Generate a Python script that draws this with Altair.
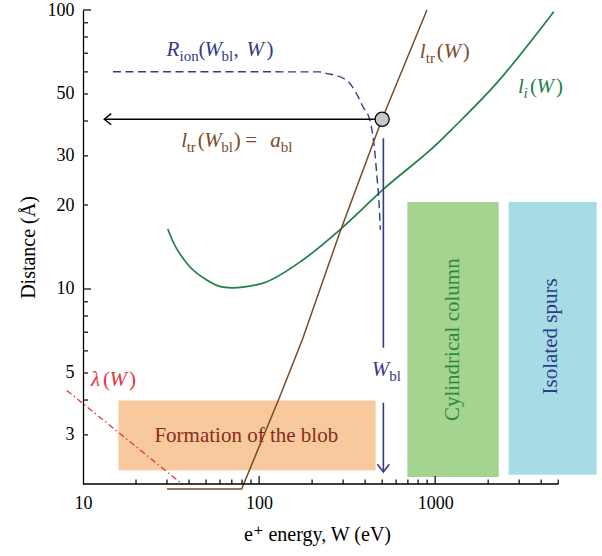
import altair as alt
import pandas as pd

FONT = "'Liberation Serif', 'Times New Roman', 'DejaVu Serif', serif"

# ---------------- axes ----------------
x_axis_end = 5000          # the drawn x axis stops here
x_dom = [10, 8300]         # the scale reaches a bit further (boxes overflow the axis)
y_dom = [2, 100]
W_PX, H_PX = 514, 474
x_labels = [10, 100, 1000]
y_labels = [3, 5, 10, 20, 30, 50, 100]
x_major = [100, 1000]
x_minor = [20, 30, 40, 50, 60, 70, 80, 90, 200, 300, 400, 500, 600, 700, 800, 900,
           2000, 3000, 4000, 5000]
y_major = [10, 100]
y_minor = [3, 4, 5, 6, 7, 8, 9, 20, 30, 40, 50, 60, 70, 80, 90]

# ---------------- curves ----------------
ltr_W = [30, 79.6, 129, 176, 287, 499, 898]
ltr_d = [1.92, 1.92, 4.01, 6.58, 15.9, 40.6, 100]

li_W = [30.3, 32.4, 40.3, 50.1, 62.3, 71, 80.9, 110, 177, 294, 505, 1061, 1236, 2227, 4713]
li_d = [16.4, 14.8, 12.04, 10.8, 10.16, 10.1, 10.16, 10.6, 12.7, 16.5, 22.7, 33.8, 37.2, 54.6, 98.6]

rion_W = [14.8, 221, 241, 313, 353, 389, 425, 434, 453, 467, 480, 488]
rion_d = [60.1, 60, 59.3, 56.1, 50.9, 45.0, 40.4, 38.2, 31.5, 25.3, 20.3, 16.3]

lam_W = [8.09, 36.9]
lam_d = [4.33, 1.99]

# blob point and arrows
W_bl = 500
a_bl = 40.6
arrow_left_W = 13.2
Wbl_line_W = 508
Wbl_upper = [34.7, 6.16]
Wbl_arrow = [3.91, 2.21]

# ---------------- regions ----------------
reg_names = ["Formation of the blob", "Cylindrical column", "Isolated spurs"]
reg_W1 = [15.9, 695, 2616]
reg_W2 = [459, 2295, 8270]
reg_d1 = [2.24, 2.12, 2.16]
reg_d2 = [3.98, 20.5, 20.5]
reg_fill = ["#F7C99C", "#A5D491", "#A8DCE4"]
reg_text_W = [84.6, 1262, 4571]
reg_text_d = [2.96, 6.58, 6.76]
reg_text_color = ["#8B2B1E", "#2B8A3C", "#2D3C8C"]
reg_text_angle = [0, 270, 270]

NAVY = "#343A8A"
BROWN = "#7A4A28"
GREEN = "#1F7F47"
RED = "#E8333A"

xs = alt.Scale(type="log", domain=x_dom, nice=False)
ys = alt.Scale(type="log", domain=y_dom, nice=False)
x_axis = alt.Axis(values=x_labels, format="d", tickSize=0, grid=False, domain=False,
                  labelFont=FONT, labelFontSize=18, labelColor="black",
                  labelPadding=10, labelFlush=False, title="e⁺ energy, W (eV)", titleFont=FONT,
                  titleFontSize=20, titleFontWeight="normal", titleColor="black",
                  titlePadding=12, titleX=234)
y_axis = alt.Axis(values=y_labels, format="d", tickSize=0, grid=False, domainColor="black",
                  domainWidth=1.3, labelFont=FONT, labelFontSize=18, labelColor="black",
                  labelPadding=9, labelFlush=False, title="Distance (Å)", titleFont=FONT,
                  titleFontSize=20, titleFontWeight="normal", titleColor="black", titlePadding=9)


def X(f="W"):
    return alt.X(f"{f}:Q", scale=xs, axis=x_axis)


def Y(f="d"):
    return alt.Y(f"{f}:Q", scale=ys, axis=y_axis)


layers = []

# region boxes
reg_df = pd.DataFrame({"W": reg_W1, "W2": reg_W2, "d": reg_d1, "d2": reg_d2, "fill": reg_fill})
layers.append(alt.Chart(reg_df).mark_rect(clip=False).encode(
    x=X(), x2="W2:Q", y=Y(), y2="d2:Q", color=alt.Color("fill:N", scale=None)))


def line(Ws, ds, color, width, dash=None, interp="linear"):
    df = pd.DataFrame({"W": Ws, "d": ds, "o": range(len(Ws))})
    kw = dict(color=color, strokeWidth=width, clip=False, interpolate=interp)
    if dash:
        kw["strokeDash"] = dash
    return alt.Chart(df).mark_line(**kw).encode(x=X(), y=Y(), order="o:Q")


layers.append(line(lam_W, lam_d, RED, 1.3, [6, 3, 1.5, 3]))
layers.append(line(li_W, li_d, GREEN, 1.7, interp="monotone"))
layers.append(line(rion_W, rion_d, NAVY, 1.4, [8, 4.5], interp="monotone"))
layers.append(line(ltr_W, ltr_d, BROWN, 1.5))

# W_bl vertical line and arrow
layers.append(line([Wbl_line_W, Wbl_line_W], Wbl_upper, NAVY, 1.6))
layers.append(line([Wbl_line_W, Wbl_line_W], Wbl_arrow, NAVY, 1.6))
layers.append(alt.Chart(pd.DataFrame({"W": [Wbl_line_W], "d": [Wbl_arrow[1]]})).mark_point(
    shape="M-1.7,-2.2L0,0L1.7,-2.2", filled=False, stroke=NAVY, strokeWidth=1.6, size=49,
    opacity=1, clip=False).encode(x=X(), y=Y()))

# horizontal arrow a_bl
layers.append(line([arrow_left_W, W_bl], [a_bl, a_bl], "black", 1.4))
layers.append(alt.Chart(pd.DataFrame({"W": [arrow_left_W], "d": [a_bl]})).mark_point(
    shape="M2,-1.6L0,0L2,1.6", filled=False, stroke="black", strokeWidth=1.4, size=49,
    opacity=1, clip=False).encode(x=X(), y=Y()))

# blob circle
layers.append(alt.Chart(pd.DataFrame({"W": [W_bl], "d": [a_bl]})).mark_point(
    shape="circle", filled=True, fill="#C8C8C8", stroke="black", strokeWidth=1.3,
    size=200, opacity=1).encode(x=X(), y=Y()))

# region texts
for i in range(3):
    df = pd.DataFrame({"W": [reg_text_W[i]], "d": [reg_text_d[i]], "t": [reg_names[i]]})
    layers.append(alt.Chart(df).mark_text(font=FONT, fontSize=21, color=reg_text_color[i],
                                          angle=reg_text_angle[i], align="center",
                                          baseline="middle", clip=False).encode(
        x=X(), y=Y(), text="t:N"))

# curve labels built from pieces: (text, dx, dy, size, italic)
MAIN, SUB, SDY = 21, 15, 5
curve_labels = [
    (29.8, 68.4, NAVY, [("R", 0, 0, MAIN, True), ("ion", 13, SDY, SUB, False),
                        ("(", 32, 0, MAIN, False), ("W", 38, 0, MAIN, True),
                        ("bl", 55, SDY, SUB, False), (",", 67, 0, MAIN, False),
                        ("W", 80, 0, MAIN, True), (")", 100, 0, MAIN, False)]),
    (817, 67.1, BROWN, [("l", 0, 0, MAIN, True), ("tr", 6, SDY, SUB, False),
                        ("(", 17, 0, MAIN, False), ("W", 24, 0, MAIN, True),
                        (")", 43, 0, MAIN, False)]),
    (2955, 50.3, GREEN, [("l", 0, 0, MAIN, True), ("i", 5.5, SDY, SUB, True),
                         ("(", 12, 0, MAIN, False), ("W", 18.5, 0, MAIN, True),
                         (")", 38, 0, MAIN, False)]),
    (36.1, 32.4, BROWN, [("l", 0, 0, MAIN, True), ("tr", 5.5, SDY, SUB, False),
                         ("(", 16.5, 0, MAIN, False), ("W", 23, 0, MAIN, True),
                         ("bl", 40, SDY, SUB, False), (")", 52.5, 0, MAIN, False),
                         ("=", 64, 0, MAIN, False), ("a", 89, 0, MAIN, True),
                         ("bl", 99.5, SDY, SUB, False)]),
    (11.1, 4.5, RED, [("λ", 0, 0, MAIN, True), ("(", 12, 0, MAIN, False),
                      ("W", 18.5, 0, MAIN, True), (")", 38, 0, MAIN, False)]),
    (436, 4.89, NAVY, [("W", 0, 0, MAIN, True), ("bl", 17.5, SDY, SUB, False)]),
]
for (aw, ad, col, pieces) in curve_labels:
    for (t, dx, dy, sz, it) in pieces:
        df = pd.DataFrame({"W": [aw], "d": [ad], "t": [t]})
        layers.append(alt.Chart(df).mark_text(
            font=FONT, fontSize=sz, fontStyle="italic" if it else "normal", color=col,
            align="left", baseline="alphabetic", dx=dx, dy=dy, clip=False
        ).encode(x=X(), y=Y(), text="t:N"))

# x axis line (stops at x_axis_end) and inward ticks
layers.append(alt.Chart(pd.DataFrame({"W": [x_dom[0]], "W2": [x_axis_end]})).mark_rule(
    color="black", strokeWidth=1.3).encode(x=X(), x2="W2:Q", y=alt.value(H_PX)))
layers.append(alt.Chart(pd.DataFrame({"W": x_major})).mark_rule(color="black", strokeWidth=1.2)
              .encode(x=X(), y=alt.value(H_PX), y2=alt.value(H_PX - 8)))
layers.append(alt.Chart(pd.DataFrame({"W": x_minor})).mark_rule(color="black", strokeWidth=1.2)
              .encode(x=X(), y=alt.value(H_PX), y2=alt.value(H_PX - 4.5)))
layers.append(alt.Chart(pd.DataFrame({"d": y_major})).mark_rule(color="black", strokeWidth=1.2)
              .encode(y=Y(), x=alt.value(0), x2=alt.value(8)))
layers.append(alt.Chart(pd.DataFrame({"d": y_minor})).mark_rule(color="black", strokeWidth=1.2)
              .encode(y=Y(), x=alt.value(0), x2=alt.value(5)))

chart = alt.layer(*layers).properties(
    width=W_PX, height=H_PX,
    padding={"left": 83, "top": 10, "right": 5, "bottom": 72},
    autosize=alt.AutoSizeParams(type="none"),
    background="white",
).configure_view(stroke=None)

chart.save("out.html", embed_options={"renderer": "svg", "actions": False})
